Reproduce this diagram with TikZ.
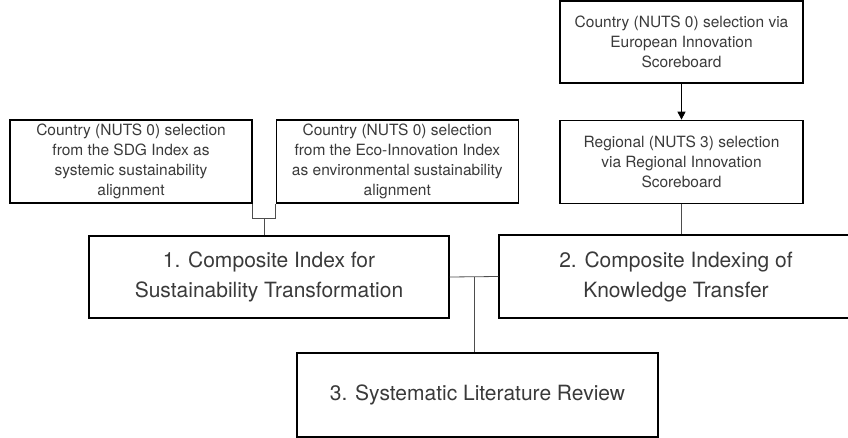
\documentclass[tikz,border=0pt]{standalone}
\usepackage{fontspec}
\setmainfont{TeX Gyre Heros}
\usepackage{tikz}
\usetikzlibrary{positioning, arrows.meta, calc}
\definecolor{txtgray}{HTML}{3a3a3a}
\definecolor{linkgray}{HTML}{4d4d4d}
\tikzset{
    smallbox/.style={draw, line width=1.3pt, rectangle, align=center, text=txtgray,
      minimum width=242pt, minimum height=83pt, inner sep=0pt,
      font=\fontsize{15.5}{20}\selectfont},
    bigbox/.style={smallbox, minimum width=360pt, font=\fontsize{21}{30}\selectfont},
    link/.style={draw=linkgray, line width=0.8pt},
}

\begin{document}
\begin{tikzpicture}[x=1pt, y=1pt]
    \tikzset{
      node distance=23pt
    }
    \clip (0,0) rectangle (848,-438);

    \node[smallbox] (sdg) at (131,-161.5) {Country (NUTS 0) selection\\from the SDG Index as\\systemic sustainability\\alignment};
    \node[smallbox, right=of sdg] (eco) {Country (NUTS 0) selection\\from the Eco-Innovation Index\\as environmental sustainability\\alignment};

    \node[smallbox, minimum width=243pt, minimum height=82pt] (eis) at (681.5,-42) {Country (NUTS 0) selection via\\European Innovation\\Scoreboard};
    \node[smallbox, minimum width=243pt, below=36pt of eis] (ris) {Regional (NUTS 3) selection\\via Regional Innovation\\Scoreboard};

    \node[bigbox, minimum height=82pt] (cist) at (269,-277) {1. Composite Index for\\Sustainability Transformation};
    \node[bigbox, minimum width=354pt] (ckt) at (676,-276.5) {2. Composite Indexing of\\Knowledge Transfer};
    \node[bigbox, minimum width=361pt, minimum height=84pt] (slr) at (477.5,-395) {3. Systematic Literature Review};

    \draw[link] (sdg.south east) -- ++(0,-15) -| (eco.south west);
    \coordinate (j1) at ($(sdg.south east)!0.5!(eco.south west) + (0,-15)$);
    \draw[link] (j1) -- (j1 |- cist.north);

    \draw[-{Triangle[length=8pt, width=8pt]}, line width=0.8pt] (eis) -- (ris);
    \draw[link] (ris.south) -- (ris.south |- ckt.north);

    \draw[link] (cist.east) -- (ckt.west);
    \coordinate (j2) at ($(cist.east)!0.5!(ckt.west)$);
    \draw[link] (j2) -- (j2 |- slr.north);
  \end{tikzpicture}
\end{document}
